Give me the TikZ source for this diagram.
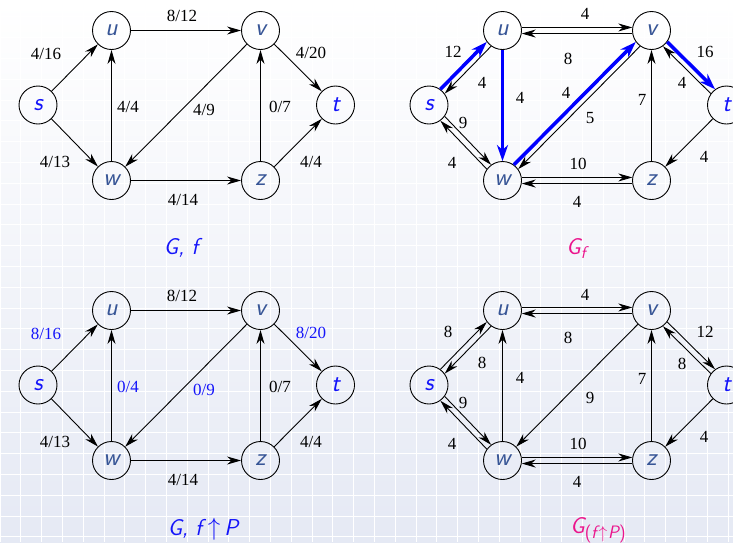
\documentclass[tikz,border=0pt]{standalone}
\usepackage{fontspec}
\newfontfamily\numfont{Liberation Serif}
\usetikzlibrary{arrows.meta}

\definecolor{stblue}{RGB}{20,20,250}
\definecolor{vxblue}{RGB}{55,85,150}
\definecolor{capmag}{RGB}{235,20,140}
\definecolor{augblue}{RGB}{0,0,255}
\definecolor{bgbot}{RGB}{229,233,244}

\tikzset{
  vtx/.style={circle,draw,line width=0.9pt,minimum size=38pt,inner sep=0pt,
    font=\fontsize{25}{25}\selectfont\sffamily\itshape},
  num/.style={font=\fontsize{17}{17}\selectfont\numfont},
  gtitle/.style={font=\fontsize{23}{23}\selectfont\sffamily\itshape,anchor=base},
  edg/.style={line width=0.9pt,-{Stealth[length=14pt,width=8pt,inset=4.5pt]}},
  aug/.style={line width=3.5pt,augblue,-{Stealth[length=16pt,width=11pt,inset=5pt]}},
}

\begin{document}
\begin{tikzpicture}[x=1pt,y=-1pt]

% Background with grid
\useasboundingbox (0,0) rectangle (733,542);
\clip (0,0) rectangle (733,542);
\shade[top color=white,bottom color=bgbot] (0,0) rectangle (733,542);
\foreach \x in {0,...,35} \draw[white,line width=0.8pt] (20.8*\x,0) -- (20.8*\x,542);
\foreach \y in {0,...,26} \draw[white,line width=0.8pt] (0,20.8*\y-4) -- (733,20.8*\y-4);

% The vertices of the four graphs
\foreach \g/\dx/\dy in {1/0/0, 2/391/0, 3/0/280, 4/391/280} {
  \foreach \n/\x/\y/\c in {s/38/105/stblue, u/111.5/30.5/vxblue, v/260.5/30.5/vxblue,
      t/335.5/105/stblue, w/111.5/180.5/vxblue, z/260.5/180.5/vxblue}
    \node[vtx,text=\c] (\n\g) at ({\x+\dx},{\y+\dy}) {\n};
}

% G, f and G, f up P: the same edges
\foreach \g in {1,3} {
  \foreach \a/\b in {s/u,s/w,w/u,u/v,v/w,w/z,z/v,v/t,z/t}
    \draw[edg] (\a\g) -- (\b\g);
}

% Residual graph G_f
\draw[aug] (s2.54) -- (u2.216);
\draw[edg] (u2.234) -- (s2.36);
\draw[aug] (u2) -- (w2);
\draw[edg] (u2.9) -- (v2.171);
\draw[edg] (v2.189) -- (u2.351);
\draw[edg] (s2.324) -- (w2.126);
\draw[edg] (w2.144) -- (s2.306);
\draw[aug] (w2.54) -- (v2.216);
\draw[edg] (v2.234) -- (w2.36);
\draw[edg] (w2.9) -- (z2.171);
\draw[edg] (z2.189) -- (w2.351);
\draw[edg] (z2) -- (v2);
\draw[aug] (v2.324) -- (t2.126);
\draw[edg] (t2.144) -- (v2.306);
\draw[edg] (t2) -- (z2);

% Residual graph after augmenting
\draw[edg] (s4.54) -- (u4.216);
\draw[edg] (u4.234) -- (s4.36);
\draw[edg] (w4) -- (u4);
\draw[edg] (u4.9) -- (v4.171);
\draw[edg] (v4.189) -- (u4.351);
\draw[edg] (s4.324) -- (w4.126);
\draw[edg] (w4.144) -- (s4.306);
\draw[edg] (v4) -- (w4);
\draw[edg] (w4.9) -- (z4.171);
\draw[edg] (z4.189) -- (w4.351);
\draw[edg] (z4) -- (v4);
\draw[edg] (v4.324) -- (t4.126);
\draw[edg] (t4.144) -- (v4.306);
\draw[edg] (t4) -- (z4);

% Labels of G, f
\node[num] (l1su) at (46,54) {4/16};
\node[num] (l1sw) at (55,162) {4/13};
\node[num] (l1wu) at (128,107) {4/4};
\node[num] (l1uv) at (182,16) {8/12};
\node[num] (l1vw) at (204,110) {4/9};
\node[num] (l1wz) at (183,200) {4/14};
\node[num] (l1zv) at (280,107) {0/7};
\node[num] (l1vt) at (311,53) {4/20};
\node[num] (l1zt) at (311,162) {4/4};

% Labels of G_f
\node[num] (l2su) at (453,52) {12};
\node[num] (l2us) at (482,83) {4};
\node[num] (l2uw) at (520,98) {4};
\node[num] (l2uv) at (585,14) {4};
\node[num] (l2vu) at (568,59) {8};
\node[num] (l2sw) at (463,123) {9};
\node[num] (l2ws) at (452,163) {4};
\node[num] (l2wv) at (566,93) {4};
\node[num] (l2vw) at (590,118) {5};
\node[num] (l2wz) at (578,164) {10};
\node[num] (l2zw) at (577,202) {4};
\node[num] (l2zv) at (642,100) {7};
\node[num] (l2vt) at (705,52) {16};
\node[num] (l2tv) at (682,83) {4};
\node[num] (l2tz) at (704,157) {4};

% Labels of G, f up P
\node[num,stblue] (l3su) at (46,334) {8/16};
\node[num] (l3sw) at (55,442) {4/13};
\node[num,stblue] (l3wu) at (128,387) {0/4};
\node[num] (l3uv) at (182,296) {8/12};
\node[num,stblue] (l3vw) at (204,390) {0/9};
\node[num] (l3wz) at (183,480) {4/14};
\node[num] (l3zv) at (280,387) {0/7};
\node[num,stblue] (l3vt) at (311,333) {8/20};
\node[num] (l3zt) at (311,442) {4/4};

% Labels of the new residual graph
\node[num] (l4su) at (448,332) {8};
\node[num] (l4us) at (482,363) {8};
\node[num] (l4wu) at (520,378) {4};
\node[num] (l4uv) at (585,295) {4};
\node[num] (l4vu) at (568,338) {8};
\node[num] (l4sw) at (463,403) {9};
\node[num] (l4ws) at (452,444) {4};
\node[num] (l4vw) at (590,398) {9};
\node[num] (l4wz) at (578,444) {10};
\node[num] (l4zw) at (577,482) {4};
\node[num] (l4zv) at (642,379) {7};
\node[num] (l4vt) at (705,332) {12};
\node[num] (l4tv) at (682,364) {8};
\node[num] (l4tz) at (704,437) {4};

% Captions
\node[gtitle,stblue] (cap1) at (181,254) {G, f};
\node[gtitle,capmag] (cap2) at (576,254) {G\raisebox{-4pt}{\fontsize{17}{17}\selectfont f}};
\node[gtitle,stblue] (cap3) at (203,535) {G, f\hspace{6pt}$\uparrow$\hspace{4pt}P};
\node[gtitle,capmag] (cap4) at (598,533) {G\raisebox{-5pt}{\fontsize{18}{18}\selectfont\upshape(\itshape f\hspace{2pt}$\uparrow$\hspace{1pt}P\upshape)}};

\end{tikzpicture}
\end{document}
